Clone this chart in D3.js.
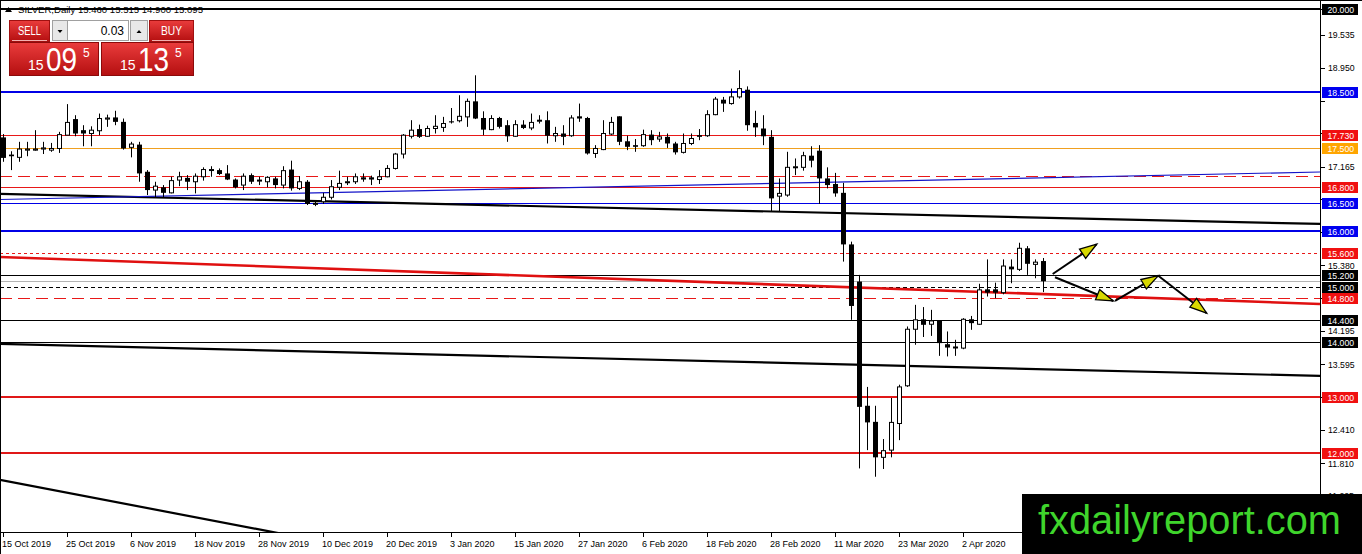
<!DOCTYPE html>
<html><head><meta charset="utf-8">
<script src="https://cdn.jsdelivr.net/npm/d3@7"></script>
<style>html,body{margin:0;padding:0;background:#fff;overflow:hidden}</style>
</head><body><svg id="c" width="1362" height="554"></svg>
<script>
// ---------------- DATA ----------------
const symbolName = "SILVER,Daily";
const headerOHLC = [15.460, 15.515, 14.900, 15.095];
const openP  = [17.69,17.38,17.33,17.46,17.46,17.48,17.46,17.49,17.73,18.02,17.82,17.76,17.81,18.02,18.05,17.97,17.51,17.56,17.07,16.74,
  16.79,16.69,16.92,16.96,16.89,16.98,17.10,17.10,17.04,16.93,16.83,17.01,16.91,16.89,16.95,16.83,17.11,16.77,16.89,16.49,
  16.53,16.61,16.79,16.88,16.89,16.97,16.97,16.93,16.98,17.13,17.39,17.71,17.84,17.71,17.85,17.87,17.98,17.99,18.06,18.34,
  18.04,17.83,18.04,17.91,17.71,17.92,17.86,18.00,18.00,17.72,17.76,17.72,18.07,18.04,17.40,17.47,17.75,18.07,17.62,17.55,
  17.54,17.74,17.66,17.70,17.58,17.42,17.58,17.73,17.72,18.10,18.37,18.30,18.42,18.55,17.95,17.85,17.70,16.63,16.65,17.15,
  17.15,17.36,17.45,16.95,16.85,16.69,15.76,15.09,12.85,12.56,11.92,12.05,12.53,13.21,14.23,14.41,14.32,14.38,13.96,13.90,
  13.89,14.41,14.32,14.95,14.95,14.89,15.36,15.31,15.69,15.40,15.46];
const highP  = [17.75,17.44,17.61,17.61,17.82,17.61,17.59,17.79,18.29,18.09,17.91,17.89,18.12,18.10,18.17,18.03,17.61,17.61,17.10,16.89,
  16.83,16.98,17.07,17.01,17.04,17.15,17.17,17.13,17.19,16.95,17.04,17.04,16.98,16.99,16.98,17.17,17.27,16.99,16.92,16.53,
  16.69,16.92,17.09,16.98,17.04,17.04,17.00,17.10,17.19,17.41,17.75,18.00,17.92,17.90,18.09,18.06,18.22,18.45,18.39,18.81,
  18.16,18.09,18.06,18.00,18.00,18.00,18.12,18.09,18.16,17.88,17.91,18.09,18.30,18.06,17.55,18.00,18.06,18.07,17.72,17.66,
  17.83,17.82,17.79,17.76,17.61,17.76,17.76,17.84,18.18,18.42,18.42,18.57,18.90,18.61,18.17,18.09,17.82,16.95,17.43,17.31,
  17.43,17.53,17.55,17.15,17.05,16.87,15.81,15.21,13.19,12.85,12.25,12.99,13.23,14.28,14.67,14.63,14.58,14.38,14.19,14.04,
  14.43,14.47,15.05,15.49,15.07,15.49,15.49,15.79,15.73,15.49,15.515];
const lowP   = [17.25,17.10,17.25,17.35,17.45,17.39,17.43,17.41,17.73,17.71,17.53,17.53,17.73,17.88,17.91,17.47,17.33,16.89,16.65,16.61,
  16.61,16.68,16.81,16.74,16.68,16.91,16.98,17.01,16.92,16.77,16.74,16.85,16.83,16.79,16.77,16.77,16.73,16.74,16.47,16.45,
  16.49,16.57,16.74,16.83,16.85,16.89,16.83,16.85,16.97,17.11,17.31,17.67,17.68,17.70,17.76,17.79,17.94,17.96,17.88,18.02,
  17.73,17.82,17.85,17.61,17.70,17.84,17.82,17.94,17.58,17.61,17.55,17.70,17.97,17.38,17.32,17.46,17.73,17.55,17.46,17.43,
  17.52,17.55,17.61,17.50,17.38,17.40,17.55,17.64,17.70,18.09,18.15,18.28,18.39,17.81,17.70,17.55,16.35,16.35,16.62,17.01,
  17.09,17.15,16.49,16.77,16.62,15.45,14.40,11.72,12.05,11.57,11.71,11.92,12.23,13.19,13.95,14.09,14.11,13.75,13.74,13.75,
  13.87,14.22,14.31,14.82,14.79,14.86,15.06,15.28,15.21,15.15,14.900];
const closeP = [17.32,17.35,17.48,17.48,17.48,17.50,17.49,17.74,17.96,17.76,17.76,17.82,18.03,18.04,17.97,17.49,17.57,17.04,16.74,16.81,
  16.69,16.91,16.98,16.89,16.99,17.11,17.11,17.03,16.93,16.79,16.99,16.89,16.92,16.97,16.83,17.09,16.77,16.89,16.49,16.50,
  16.61,16.80,16.86,16.89,16.98,16.93,16.93,16.98,17.13,17.39,17.73,17.82,17.70,17.85,17.89,17.94,17.96,18.07,18.34,18.03,
  17.83,18.03,17.88,17.71,17.92,17.86,17.96,18.00,17.72,17.76,17.70,18.04,18.03,17.40,17.49,17.76,17.96,17.61,17.52,17.52,
  17.74,17.64,17.70,17.58,17.42,17.58,17.67,17.70,18.10,18.38,18.30,18.42,18.57,17.91,17.87,17.71,16.59,16.68,17.15,17.16,
  17.36,17.27,16.95,16.83,16.68,15.76,14.65,12.83,12.55,11.92,12.04,12.55,13.19,14.23,14.40,14.31,14.38,13.98,13.90,13.91,
  14.41,14.34,14.94,14.89,14.89,15.37,15.31,15.69,15.41,15.44,15.095];

const dateLabels = ["15 Oct 2019","25 Oct 2019","6 Nov 2019","18 Nov 2019","28 Nov 2019","10 Dec 2019","20 Dec 2019",
  "3 Jan 2020","15 Jan 2020","27 Jan 2020","6 Feb 2020","18 Feb 2020","28 Feb 2020","11 Mar 2020","23 Mar 2020","2 Apr 2020"];
const dateLabelBars = [0,8,16,24,32,40,48,56,64,72,80,88,96,104,112,120];

const priceTicks = [20.000,19.535,18.950,18.350,17.765,17.165,16.580,15.980,15.380,14.795,14.195,13.595,13.010,12.410,11.810,11.225];

// horizontal levels (value, kind)
const levelValues = [20.0, 18.5, 17.73, 17.5, 17.0, 16.8, 16.5, 16.0, 15.6, 15.2, 15.095, 15.0, 14.8, 14.4, 14.0, 13.0, 12.0];
const levelKinds  = ["black2","blue2","red","orange","redDash","red","blue","blue2","redDot","black","bid","blackDot","redDash","black","black","red2","red2"];

// price labels on axis (value, kind)
const axisLabelValues = [20.0, 18.5, 17.73, 17.5, 16.8, 16.5, 16.0, 15.6, 15.2, 15.0, 14.8, 14.4, 14.0, 13.0, 12.0];
const axisLabelKinds  = ["black","blue","red","orange","red","blue","blue","red","black","black","red","black","black","red","red"];

// trend lines: [bar1, price1, bar2, price2]
const trendLines = [
  [-0.375, 16.670, 164.625, 16.129],
  [-0.375, 16.570, 164.625, 17.066],
  [-0.375, 15.534, 164.625, 14.686],
  [-0.375, 13.965, 164.625, 13.388],
  [-0.375, 11.513, 40.0, 10.40]
];
const trendKinds = ["black","blue","red","black","black"];

// projection arrows: [bar1, price1, bar2, price2]
const arrowLines = [
  [131.21, 15.227, 136.71, 15.763],
  [131.50, 15.168, 138.79, 14.740],
  [139.00, 14.740, 144.41, 15.196],
  [144.41, 15.196, 150.46, 14.519]
];

const lotSize = "0.03";
const sellQuote = ["15", "09", "5"];
const buyQuote  = ["15", "13", "5"];
const watermark = "fxdailyreport.com";

// ---------------- DRAW ----------------
const svg = d3.select("#c");
const W = 1362, H = 554, plotR = 1320, plotB = 532;
const FONT = "'Liberation Sans', Arial, sans-serif";

const x = d3.scaleLinear().domain([0, 130]).range([3, 1043]);
const y = d3.scaleLinear().domain([12, 20]).range([452.9, 9.3]);

const defs = svg.append("defs");
defs.append("clipPath").attr("id", "plot").append("rect").attr("x", 0).attr("y", 0).attr("width", plotR).attr("height", plotB);
const g1 = defs.append("linearGradient").attr("id", "redg").attr("x1", 0).attr("y1", 0).attr("x2", 0).attr("y2", 1);
g1.append("stop").attr("offset", "0%").attr("stop-color", "#ea3c3c");
g1.append("stop").attr("offset", "100%").attr("stop-color", "#b40f10");

svg.append("rect").attr("width", W).attr("height", H).attr("fill", "#fff");

const plot = svg.append("g").attr("clip-path", "url(#plot)");

const levelStyle = {
  black2: {c: "#000", w: 2, d: null},
  blue2: {c: "#0000e6", w: 2, d: null},
  red: {c: "#e81818", w: 1, d: null},
  orange: {c: "#f0a020", w: 1, d: null},
  redDash: {c: "#e81818", w: 1, d: "12,6"},
  blue: {c: "#0000e6", w: 1, d: null},
  redDot: {c: "#e81818", w: 1, d: "3,3"},
  black: {c: "#000", w: 1, d: null},
  bid: {c: "#b4b4b4", w: 1, d: null},
  blackDot: {c: "#000", w: 1, d: "4,3"},
  red2: {c: "#e01818", w: 2, d: null}
};
const snap = (v, w) => w % 2 === 1 ? Math.round(v) + 0.5 : Math.round(v);

plot.selectAll("line.lvl").data(levelValues).join("line").attr("class", "lvl")
  .attr("x1", 0).attr("x2", plotR)
  .attr("y1", (d, i) => snap(y(d), levelStyle[levelKinds[i]].w))
  .attr("y2", (d, i) => snap(y(d), levelStyle[levelKinds[i]].w))
  .attr("stroke", (d, i) => levelStyle[levelKinds[i]].c)
  .attr("stroke-width", (d, i) => levelStyle[levelKinds[i]].w)
  .attr("stroke-dasharray", (d, i) => levelStyle[levelKinds[i]].d);

const trendStyle = {black: {c: "#000", w: 2.2}, blue: {c: "#1414c8", w: 1.2}, red: {c: "#e01010", w: 2.6}};
plot.selectAll("line.tr").data(trendLines).join("line").attr("class", "tr")
  .attr("x1", d => x(d[0])).attr("y1", d => y(d[1]))
  .attr("x2", d => x(d[2])).attr("y2", d => y(d[3]))
  .attr("stroke", (d, i) => trendStyle[trendKinds[i]].c)
  .attr("stroke-width", (d, i) => trendStyle[trendKinds[i]].w);

// candles
const idx = d3.range(openP.length);
const candles = plot.append("g");
candles.selectAll("line.wick").data(idx).join("line").attr("class", "wick")
  .attr("x1", i => Math.round(x(i)) + 0.5).attr("x2", i => Math.round(x(i)) + 0.5)
  .attr("y1", i => y(highP[i])).attr("y2", i => y(lowP[i]))
  .attr("stroke", "#000").attr("stroke-width", 1);
candles.selectAll("rect.body").data(idx).join("rect").attr("class", "body")
  .attr("x", i => closeP[i] >= openP[i] ? Math.round(x(i)) - 1.5 : Math.round(x(i)) - 2)
  .attr("width", i => closeP[i] >= openP[i] ? 4 : 5)
  .attr("y", i => y(Math.max(openP[i], closeP[i])))
  .attr("height", i => Math.max(1, y(Math.min(openP[i], closeP[i])) - y(Math.max(openP[i], closeP[i]))))
  .attr("fill", i => closeP[i] >= openP[i] ? "#fff" : "#000")
  .attr("stroke", "#000").attr("stroke-width", i => closeP[i] >= openP[i] ? 1 : 0);

// arrows
const arr = plot.append("g");
arr.selectAll("line").data(arrowLines).join("line")
  .attr("x1", d => x(d[0])).attr("y1", d => y(d[1]))
  .attr("x2", d => x(d[2])).attr("y2", d => y(d[3]))
  .attr("stroke", "#000").attr("stroke-width", 2);
arr.selectAll("path").data(arrowLines).join("path")
  .attr("d", d => {
    const x1 = x(d[0]), y1 = y(d[1]), x2 = x(d[2]), y2 = y(d[3]);
    const a = Math.atan2(y2 - y1, x2 - x1), L = 17, hw = 5.5;
    const bx = x2 - L * Math.cos(a), by = y2 - L * Math.sin(a);
    const px = -Math.sin(a) * hw, py = Math.cos(a) * hw;
    return `M${x2},${y2}L${bx + px},${by + py}L${bx - px},${by - py}Z`;
  })
  .attr("fill", "#d8d800").attr("stroke", "#000").attr("stroke-width", 1.3).attr("stroke-linejoin", "miter");

// axes frame
svg.append("line").attr("x1", plotR + 0.5).attr("x2", plotR + 0.5).attr("y1", 0).attr("y2", plotB + 1).attr("stroke", "#000");
svg.append("line").attr("x1", 0).attr("x2", plotR + 1).attr("y1", plotB + 0.5).attr("y2", plotB + 0.5).attr("stroke", "#000");
svg.append("line").attr("x1", 0.5).attr("x2", 0.5).attr("y1", 0).attr("y2", H).attr("stroke", "#000");
svg.append("line").attr("x1", 0).attr("x2", W).attr("y1", 0.5).attr("y2", 0.5).attr("stroke", "#000");

// price axis ticks (labels hidden behind level boxes are skipped, as on the reference)
const fmt = d3.format(".3f");
const visibleTicks = priceTicks.filter(t => !axisLabelValues.some(v => Math.abs(y(v) - y(t)) < 9));
const ya = svg.append("g");
ya.selectAll("line").data(priceTicks).join("line")
  .attr("x1", plotR + 1).attr("x2", plotR + 5)
  .attr("y1", d => Math.round(y(d)) + 0.5).attr("y2", d => Math.round(y(d)) + 0.5)
  .attr("stroke", "#000");
ya.selectAll("text").data(visibleTicks).join("text")
  .attr("x", 1328).attr("y", d => y(d) + 3.2)
  .attr("font-family", FONT).attr("font-size", 8.7).attr("fill", "#000")
  .text(d => fmt(d));

const boxColor = {black: "#000", blue: "#0000f0", red: "#f01010", orange: "#ffa500"};
const boxes = svg.append("g");
boxes.selectAll("rect").data(axisLabelValues).join("rect")
  .attr("x", 1322).attr("width", 36)
  .attr("y", d => Math.round(y(d)) - 5).attr("height", 11)
  .attr("fill", (d, i) => boxColor[axisLabelKinds[i]]);
boxes.selectAll("text").data(axisLabelValues).join("text")
  .attr("x", 1327.5).attr("y", d => Math.round(y(d)) + 3.5)
  .attr("font-family", FONT).attr("font-size", 8.7).attr("fill", "#fff")
  .text(d => fmt(d));

// date axis
const xa = svg.append("g");
xa.selectAll("line").data(dateLabelBars).join("line")
  .attr("x1", b => Math.round(x(b)) + 0.5).attr("x2", b => Math.round(x(b)) + 0.5)
  .attr("y1", plotB).attr("y2", plotB + 5).attr("stroke", "#000");
xa.selectAll("text").data(dateLabels).join("text")
  .attr("x", (d, i) => x(dateLabelBars[i]) - 1).attr("y", 546.5)
  .attr("font-family", FONT).attr("font-size", 9).attr("fill", "#000")
  .text(d => d);

// header
svg.append("path").attr("d", "M5,12L8.5,7L12,12Z").attr("fill", "#000");
svg.append("text").attr("x", 18).attr("y", 12.5).attr("font-family", FONT).attr("font-size", 9.5)
  .attr("textLength", 185).attr("lengthAdjust", "spacingAndGlyphs").attr("fill", "#000")
  .text(symbolName + "  " + headerOHLC.map(fmt).join(" "));

// trade panel
const panel = svg.append("g");
function bigBox(x0, w, q) {
  panel.append("rect").attr("x", x0 + 0.5).attr("y", 42.5).attr("width", w).attr("height", 33)
    .attr("fill", "url(#redg)").attr("stroke", "#8c0a0a");
  panel.append("text").attr("x", x0 + 19).attr("y", 70).attr("font-family", FONT).attr("font-size", 14).attr("fill", "#fff").text(q[0]);
  panel.append("text").attr("x", x0 + 37).attr("y", 70.5).attr("font-family", FONT).attr("font-size", 33)
    .attr("textLength", 31).attr("lengthAdjust", "spacingAndGlyphs").attr("fill", "#fff").text(q[1]);
  panel.append("text").attr("x", x0 + 74).attr("y", 57).attr("font-family", FONT).attr("font-size", 12).attr("fill", "#fff").text(q[2]);
}
function button(x0, w, label, tl) {
  panel.append("rect").attr("x", x0 + 0.5).attr("y", 20.5).attr("width", w).attr("height", 21)
    .attr("fill", "url(#redg)").attr("stroke", "#a01010");
  panel.append("line").attr("x1", x0 + 3).attr("x2", x0 + w - 2).attr("y1", 40.5).attr("y2", 40.5).attr("stroke", "#f4b0b0");
  panel.append("text").attr("x", x0 + w / 2 + 0.5).attr("y", 35).attr("text-anchor", "middle")
    .attr("font-family", FONT).attr("font-size", 12.5).attr("textLength", tl).attr("lengthAdjust", "spacingAndGlyphs")
    .attr("fill", "#fff").text(label);
}
bigBox(9, 89, sellQuote);
bigBox(101, 92, buyQuote);
button(9, 40, "SELL", 23);
button(149, 44, "BUY", 21);
panel.append("rect").attr("x", 52.5).attr("y", 20.5).attr("width", 15).attr("height", 20).attr("fill", "#e8e8e8").attr("stroke", "#a0a0a0");
panel.append("rect").attr("x", 67.5).attr("y", 20.5).attr("width", 61).attr("height", 20).attr("fill", "#fff").attr("stroke", "#a0a0a0");
panel.append("rect").attr("x", 130.5).attr("y", 20.5).attr("width", 17).attr("height", 20).attr("fill", "#e8e8e8").attr("stroke", "#a0a0a0");
panel.append("path").attr("d", "M57.5,30L62.5,30L60,33Z").attr("fill", "#000");
panel.append("path").attr("d", "M136.5,33L141.5,33L139,30Z").attr("fill", "#000");
panel.append("text").attr("x", 124).attr("y", 35).attr("text-anchor", "end").attr("font-family", FONT)
  .attr("font-size", 12).attr("fill", "#000").text(lotSize);

// watermark
svg.append("rect").attr("x", 1022).attr("y", 494).attr("width", W - 1022).attr("height", H - 494).attr("fill", "#000");
svg.append("text").attr("x", 1038).attr("y", 534).attr("font-family", FONT).attr("font-size", 40)
  .attr("textLength", 303).attr("lengthAdjust", "spacingAndGlyphs").attr("fill", "#3fd52c").text(watermark);
</script></body></html>
